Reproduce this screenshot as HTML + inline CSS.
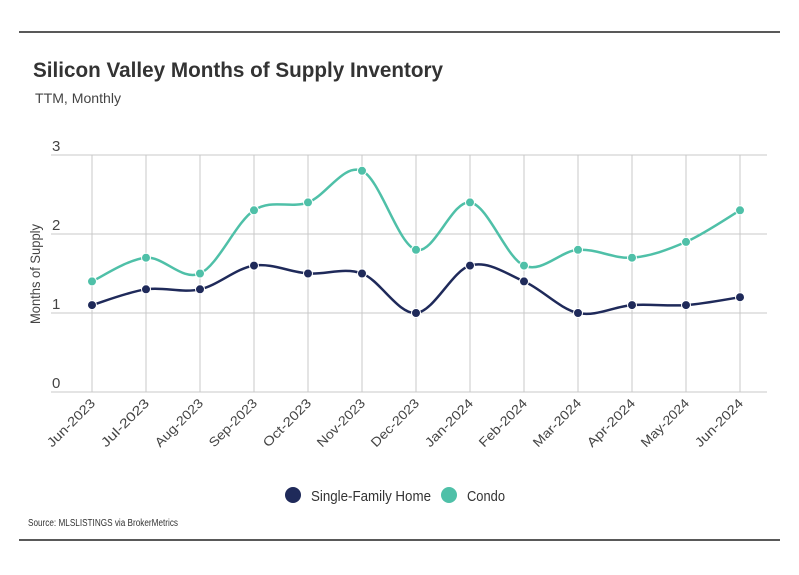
<!DOCTYPE html>
<html><head><meta charset="utf-8"><style>
body{margin:0;background:#fff}
svg{display:block;font-family:"Liberation Sans",sans-serif}
</style></head><body>
<svg id="chart" width="799" height="575" viewBox="0 0 799 575">
<line x1="19" y1="32" x2="780" y2="32" stroke="#222" stroke-width="1.5"/>
<text x="33" y="77" font-size="21" font-weight="bold" fill="#333" textLength="410" lengthAdjust="spacingAndGlyphs">Silicon Valley Months of Supply Inventory</text>
<text x="35" y="103" font-size="14" fill="#444" textLength="86" lengthAdjust="spacingAndGlyphs">TTM, Monthly</text>
<text transform="translate(40,274) rotate(-90)" text-anchor="middle" font-size="14" fill="#444" textLength="100" lengthAdjust="spacingAndGlyphs">Months of Supply</text>
<g id="grid"></g><g id="xlabels"></g><g id="series"></g>
<g>
<circle cx="293" cy="495" r="8" fill="#1f2a5a"/>
<text x="311" y="501" font-size="15" fill="#333" textLength="120" lengthAdjust="spacingAndGlyphs">Single-Family Home</text>
<circle cx="449" cy="495" r="8" fill="#4fc0a8"/>
<text x="467" y="501" font-size="15" fill="#333" textLength="38" lengthAdjust="spacingAndGlyphs">Condo</text>
</g>
<text x="28" y="526" font-size="10" fill="#333" textLength="150" lengthAdjust="spacingAndGlyphs">Source:  MLSLISTINGS via BrokerMetrics</text>
<line x1="19" y1="540" x2="780" y2="540" stroke="#222" stroke-width="1.5"/>
</svg>
<script>
const categories=["Jun-2023","Jul-2023","Aug-2023","Sep-2023","Oct-2023","Nov-2023","Dec-2023","Jan-2024","Feb-2024","Mar-2024","Apr-2024","May-2024","Jun-2024"];
const sfhValues=[1.1,1.3,1.3,1.6,1.5,1.5,1.0,1.6,1.4,1.0,1.1,1.1,1.2];
const condoValues=[1.4,1.7,1.5,2.3,2.4,2.8,1.8,2.4,1.6,1.8,1.7,1.9,2.3];
const yTicks=[0,1,2,3];
const NS="http://www.w3.org/2000/svg";
const x0=92,x1=740,yBase=392,yTop=155,yMax=3;
const xs=i=>x0+i*(x1-x0)/(categories.length-1);
const ys=v=>yBase-v*(yBase-yTop)/yMax;
function mk(tag,attrs,parent){const e=document.createElementNS(NS,tag);for(const k in attrs)e.setAttribute(k,attrs[k]);parent.appendChild(e);return e;}
const grid=document.getElementById('grid');
yTicks.forEach(t=>{
  const l=mk('line',{x1:51,x2:767,y1:ys(t),y2:ys(t),stroke:'#c8c8c8','stroke-width':1},grid);
  
  
  const tx=mk('text',{x:52,y:ys(t)-4,'font-size':15,fill:'#444'},grid);
  tx.textContent=t;
  
  
});
const xl=document.getElementById('xlabels');
categories.forEach((c,i)=>{
  const l=mk('line',{x1:xs(i),x2:xs(i),y1:yTop,y2:yBase,stroke:'#c8c8c8','stroke-width':1},grid);
  
  
  const t=mk('text',{transform:`translate(${xs(i)+4},${yBase+12}) rotate(-45)`,'text-anchor':'end','font-size':13,fill:'#444',textLength:62,lengthAdjust:'spacingAndGlyphs'},xl);
  t.textContent=c;
  
  
});
function path(vals){
  const p=vals.map((v,i)=>[xs(i),ys(v)]);
  let d=`M${p[0][0]},${p[0][1]}`;
  for(let i=0;i<p.length-1;i++){
    const a=p[i-1]||p[i],b=p[i],c=p[i+1],e=p[i+2]||c,k=1/6;
    d+=` C${b[0]+(c[0]-a[0])*k},${b[1]+(c[1]-a[1])*k} ${c[0]-(e[0]-b[0])*k},${c[1]-(e[1]-b[1])*k} ${c[0]},${c[1]}`;
  }
  return d;
}
const sg=document.getElementById('series');
[[condoValues,'#4fc0a8','condo'],[sfhValues,'#1f2a5a','sfh']].forEach(([vals,col,nm])=>{
  const p=mk('path',{d:path(vals),fill:'none',stroke:col,'stroke-width':2.5},sg);
  
  
  vals.forEach((v,i)=>{
    const c=mk('circle',{cx:xs(i),cy:ys(v),r:4.5,fill:col,stroke:'#fff','stroke-width':1},sg);
    
    
  });
});
</script>
</body></html>
